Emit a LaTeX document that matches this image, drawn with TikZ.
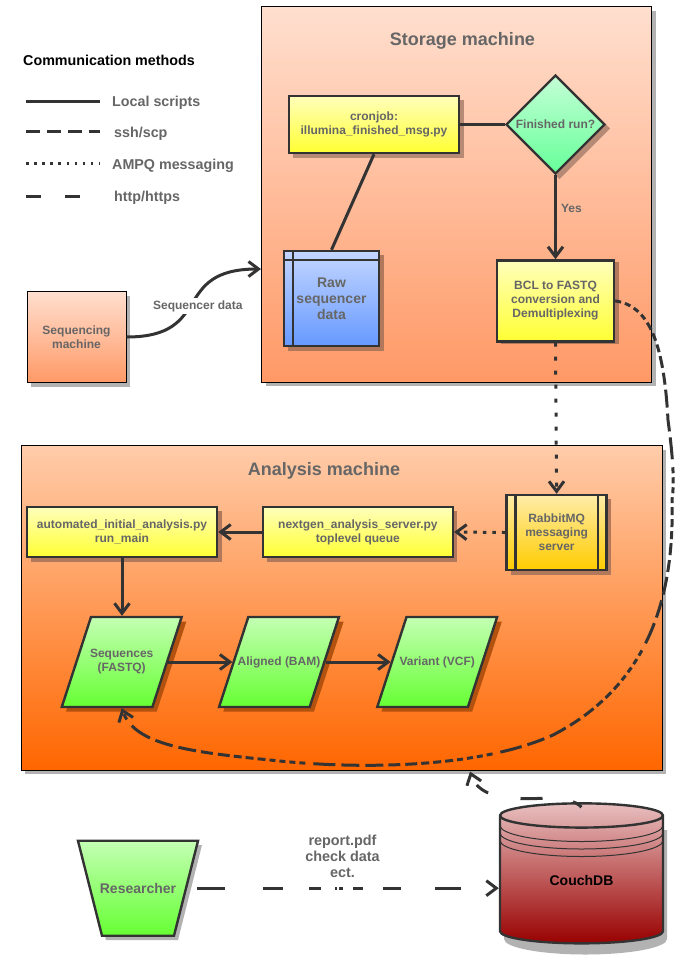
\documentclass[tikz,border=0pt]{standalone}
\usepackage{fontspec}
\setmainfont{Liberation Sans}
\usetikzlibrary{arrows.meta, positioning, shapes.geometric}
\definecolor{inkgray}{HTML}{333333}
\definecolor{labelgray}{HTML}{666666}
\definecolor{yellowtop}{HTML}{FFFFBB}
\definecolor{yellowbot}{HTML}{FFFF33}
\definecolor{greentop}{HTML}{C4FFB4}
\definecolor{greenbot}{HTML}{66FF33}
\definecolor{peachtop}{HTML}{FFDFCF}
\definecolor{peachbot}{HTML}{FF9966}
\definecolor{orangetop}{HTML}{FFCCAA}
\definecolor{orangebot}{HTML}{FF6600}
\definecolor{mintop}{HTML}{C4FFD6}
\definecolor{mintbot}{HTML}{66FF99}
\definecolor{bluetop}{HTML}{C4D6FF}
\definecolor{bluebot}{HTML}{6699FF}
\definecolor{goldtop}{HTML}{FFECA8}
\definecolor{goldbot}{HTML}{FFCC00}
\definecolor{dbtop}{HTML}{E8BFBF}
\definecolor{dbbot}{HTML}{990000}
\definecolor{shadowgray}{HTML}{B2B2B2}
\definecolor{shadowpeach}{HTML}{B68A74}
\definecolor{shadowtan}{HTML}{B2785C}
\definecolor{shadowrust}{HTML}{B2520E}

\begin{document}
\begin{tikzpicture}[x=1pt, y=-1pt, node distance=12pt,
    >={Straight Barb[length=10pt, width=15pt]},
    txt/.style={text=labelgray, align=center, inner sep=0pt, font=\bfseries\fontsize{12}{14}\selectfont},
    machine/.style={rectangle, draw=black, line width=1pt, txt},
    box/.style={rectangle, draw=inkgray, line width=2.4pt, txt, top color=yellowtop, bottom color=yellowbot},
    flowdata/.style={trapezium, trapezium left angle=72, trapezium right angle=108, inner xsep=30.7pt, inner ysep=45pt, draw=inkgray, line width=2.4pt, top color=greentop, bottom color=greenbot},
    arrow/.style={->, line width=3pt, draw=inkgray},
    plainline/.style={line width=3pt, draw=inkgray},
    sshline/.style={plainline, dash pattern=on 14pt off 7pt},
    httpline/.style={plainline, dash pattern=on 15pt off 24pt},
    legendtxt/.style={txt, anchor=west, yshift=-2pt, font=\bfseries\fontsize{14.3}{16}\selectfont}]
  \useasboundingbox (0,0) rectangle (692,970);

  % legend
  \node[legendtxt, text=black, anchor=west] (legendtitle) at (23,58) {Communication methods};
  \coordinate (localA) at (26,101);
  \coordinate (localB) at (100,101);
  \coordinate (sshA) at (26,131);
  \coordinate (sshB) at (100,131);
  \coordinate (ampqA) at (26,163.5);
  \coordinate (ampqB) at (100,163.5);
  \coordinate (httpA) at (26,196);
  \coordinate (httpB) at (80,196);
  \draw[plainline] (localA) -- (localB);
  \draw[sshline] (sshA) -- (sshB);
  \draw[plainline, dash pattern=on 2.5pt off 5.6pt] (ampqA) -- (ampqB);
  \draw[httpline] (httpA) -- (httpB);
  \node[legendtxt, right=of localB] (locallabel) {Local scripts};
  \node[legendtxt, right=14pt of sshB, yshift=-1pt] (sshlabel) {ssh/scp};
  \node[legendtxt, right=of ampqB] (ampqlabel) {AMPQ messaging};
  \node[legendtxt, right=34pt of httpB] (httplabel) {http/https};

  % machines
  \fill[shadowgray] (266,11) rectangle (656,386);
  \fill[shadowgray] (31,296) rectangle (130,387);
  \fill[shadowgray] (25,450) rectangle (666,774);
  \node[machine, minimum width=390pt, minimum height=375.5pt, top color=peachtop, bottom color=peachbot] (storage) at (456.7,194.3) {};
  \node[machine, minimum width=99pt, minimum height=91pt, top color=peachtop, bottom color=peachbot] (seqmachine) at (76.5,337) {Sequencing\\machine};
  \node[machine, minimum width=641pt, minimum height=324.5pt, top color=orangetop, bottom color=orangebot] (analysis) at (341.5,608) {};
  \node[txt, font=\bfseries\fontsize{18}{20}\selectfont] (storagetitle) at (462.5,41) {Storage machine};
  \node[txt, font=\bfseries\fontsize{18}{20}\selectfont] (analysistitle) at (324,471) {Analysis machine};

  % storage machine
  \fill[shadowpeach] (293,100) rectangle (463.5,157.5);
  \fill[shadowpeach] (559.5,78) -- (610,128.5) -- (559.5,179) -- (509,128.5) -- cycle;
  \fill[shadowtan] (288,255) rectangle (383.5,350.5);
  \fill[shadowtan] (501,262) rectangle (618.5,343.5);
  \node[box, minimum width=170pt, minimum height=57pt] (cronjob) at (374,124.5) {cronjob:\\illumina\_finished\_msg.py};
  \node[diamond, aspect=1, inner sep=0pt, minimum width=99pt, minimum height=99pt, draw=inkgray, line width=2.4pt, txt, top color=mintop, bottom color=mintbot] (finished) at (555.5,124.5) {Finished run?};
  \node[box, minimum width=95pt, minimum height=95pt, top color=bluetop, bottom color=bluebot, font=\bfseries\fontsize{14}{16}\selectfont] (rawdata) at (331.5,298.5) {Raw\\sequencer\\data};
  \draw[line width=2.4pt, draw=inkgray] ([xshift=10pt]rawdata.north west) -- ([xshift=10pt]rawdata.south west);
  \draw[line width=2.4pt, draw=inkgray] ([yshift=-10pt]rawdata.north west) -- ([yshift=-10pt]rawdata.north east);
  \node[box, minimum width=117pt, minimum height=81pt, below=84pt of finished] (bcl) {BCL to FASTQ\\conversion and\\Demultiplexing};

  % analysis machine
  \fill[shadowtan] (31,511) rectangle (221.5,561.5);
  \fill[shadowtan] (266.5,511) rectangle (457,561.5);
  \fill[shadowtan] (510.6,499) rectangle (611,574.5);
  \fill[shadowrust] (66,711.5) -- (156.7,711.5) -- (186.4,621.5) -- (95.7,621.5) -- cycle;
  \fill[shadowrust] (223.3,711.5) -- (314,711.5) -- (343.7,621.5) -- (253,621.5) -- cycle;
  \fill[shadowrust] (381.5,711.5) -- (472.2,711.5) -- (501.9,621.5) -- (411.2,621.5) -- cycle;
  \node[box, minimum width=190pt, minimum height=50.5pt] (automated) at (122,532) {automated\_initial\_analysis.py\\run\_main};
  \node[box, minimum width=190pt, minimum height=50.5pt, right=43.5pt of automated] (nextgen) {nextgen\_analysis\_server.py\\toplevel queue};
  \node[box, minimum width=100pt, minimum height=75pt, top color=goldtop, bottom color=goldbot] (rabbit) at (556.6,532.5) {RabbitMQ\\messaging\\server};
  \draw[line width=2.4pt, draw=inkgray] ([xshift=10pt]rabbit.north west) -- ([xshift=10pt]rabbit.south west);
  \draw[line width=2.4pt, draw=inkgray] ([xshift=-10pt]rabbit.north east) -- ([xshift=-10pt]rabbit.south east);
  \node[flowdata, label={[txt]center:{Sequences\\(FASTQ)}}] (sequences) at (121.7,662) {};
  \node[flowdata, label={[txt]center:Aligned (BAM)}] (aligned) at (279,662) {};
  \node[flowdata, label={[txt]center:Variant (VCF)}] (variant) at (437.2,662) {};

  % outside
  \fill[shadowgray] (82,845) -- (202,845) -- (178,940) -- (106,940) -- cycle;
  \fill[shadowgray] (504,830) -- (667,830) -- (667,939) arc[start angle=360, end angle=180, x radius=81.5pt, y radius=15.5pt] -- cycle;
  \node[trapezium, trapezium angle=75.8, shape border rotate=180, inner xsep=36pt, inner ysep=47.5pt, draw=inkgray, line width=2.4pt, top color=greentop, bottom color=greenbot, label={[txt, font=\bfseries\fontsize{14}{16}\selectfont]center:Researcher}] (researcher) at (138,888.2) {};
  \node[cylinder, shape border rotate=90, aspect=0.38, minimum height=140pt, minimum width=163pt, draw=inkgray, line width=2.4pt, txt, text=black, top color=dbtop, bottom color=dbbot, font=\bfseries\fontsize{14}{16}\selectfont] (couchdb) at (581.5,880) {\raisebox{-7pt}{CouchDB}};
  \draw[draw=inkgray, line width=1pt] (500,825.5) arc[start angle=180, end angle=360, x radius=81.5pt, y radius=16pt];
  \draw[draw=inkgray, line width=1pt] (500,833) arc[start angle=180, end angle=360, x radius=81.5pt, y radius=16pt];
  \draw[draw=inkgray, line width=1pt] (500,840.5) arc[start angle=180, end angle=360, x radius=81.5pt, y radius=16pt];
  \node[txt, font=\bfseries\fontsize{14.4}{15.8}\selectfont] (reportlabel) at (342.5,856.3) {report.pdf\\check data\\ect.};

  % connectors
  \coordinate (storagein) at (261,269);
  \coordinate (analysisin) at (470,771.5);
  \draw[arrow] (seqmachine.east) .. controls (215,337) and (170,269) .. (storagein)
    node[pos=0.5, fill=white, txt, inner sep=2pt, xshift=5pt, yshift=-3pt] (seqlabel) {Sequencer data};
  \draw[plainline] (cronjob) -- (finished);
  \draw[plainline] (cronjob.south) -- (rawdata.north);
  \draw[arrow] (finished) -- node[txt, right=4pt, yshift=9pt] (yeslabel) {Yes} (bcl);
  \draw[arrow, dash pattern=on 4pt off 10pt] (bcl.south) -- (rabbit.north);
  \draw[arrow, dash pattern=on 3.5pt off 6pt] (rabbit.west) -- (nextgen.east);
  \draw[arrow] (nextgen) -- (automated);
  \draw[arrow] (automated) -- (automated |- sequences.north);
  \draw[arrow] (sequences.east) -- (aligned.west);
  \draw[arrow] (aligned.east) -- (variant.west);
  \draw[arrow, dash pattern=on 6pt off 4pt on 6pt off 4pt on 6pt off 4pt on 6pt off 4pt on 8pt off 4pt on 8pt off 4pt on 8pt off 4pt on 12pt off 5pt on 12pt off 5pt on 18pt off 6pt on 18pt off 6pt on 22pt off 8pt]
    (bcl.east) .. controls (650,306) and (664,345) .. (668,420) .. controls (672,450) and (675,480) .. (672,500)
    .. controls (675,610) and (640,690) .. (553,735) .. controls (480,768) and (360,770) .. (270,760)
    .. controls (190,752) and (135,745) .. (sequences.south);
  \draw[arrow, dash pattern=on 10pt off 31pt on 22pt off 33pt on 14pt off 40pt]
    ([yshift=-5pt]couchdb.north) .. controls (570,795) and (540,799) .. (525,798.7) .. controls (500,798) and (478,795) .. (analysisin);
  \draw[arrow, dash pattern=on 28pt off 38pt on 20pt off 26pt on 12pt off 14pt on 2pt off 2pt on 4pt off 10pt on 10pt off 20pt on 18pt off 34pt on 26pt off 60pt]
    ([xshift=10pt]researcher.east) -- (couchdb.west |- researcher);
\end{tikzpicture}
\end{document}
